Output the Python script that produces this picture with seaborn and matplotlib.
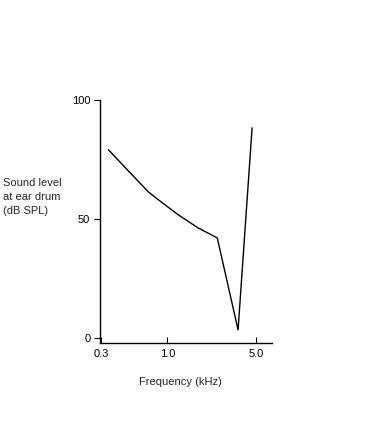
import numpy as np
import pandas as pd
import seaborn as sns
import matplotlib.pyplot as plt
from matplotlib.ticker import FixedLocator, NullLocator

# Threshold curve
freq_khz = [0.343, 0.467, 0.709, 0.85, 1.22, 1.75, 2.48, 3.62, 4.67]
level_db = [79.1, 71.5, 61.4, 58.1, 51.8, 46.3, 42.1, 3.5, 88.3]

x_ticks = [0.3, 1.0, 5.0]
x_tick_labels = ["0.3", "1.0", "5.0"]
y_ticks = [0, 50, 100]
y_tick_labels = ["0", "50", "100"]

df = pd.DataFrame({"Frequency": freq_khz, "Level": level_db})

sns.set_style("white")
plt.rcParams["font.family"] = ["Liberation Sans", "DejaVu Sans"]

fig = plt.figure(figsize=(3.67, 4.44), dpi=100)
ax = fig.add_axes([0.2725, 0.2275, 0.4687, 0.5473])

sns.lineplot(data=df, x="Frequency", y="Level", ax=ax, color="black",
             linewidth=1.0, sort=False, estimator=None)

ax.set_xscale("log")
ax.set_xlim(0.294, 6.71)
ax.set_ylim(-2, 100)

ax.xaxis.set_major_locator(FixedLocator(x_ticks))
ax.xaxis.set_minor_locator(NullLocator())
ax.set_xticklabels(x_tick_labels)
ax.set_yticks(y_ticks)
ax.set_yticklabels(y_tick_labels)

ax.tick_params(axis="x", bottom=True, direction="in", length=4, width=0.8,
               labelsize=8, pad=4, colors="black")
ax.tick_params(axis="y", left=True, direction="out", length=4, width=0.8,
               labelsize=8, pad=3, colors="black")

for side in ["top", "right"]:
    ax.spines[side].set_visible(False)
for side in ["left", "bottom"]:
    ax.spines[side].set_color("black")
    ax.spines[side].set_linewidth(1.0)

ax.set_xlabel("")
ax.set_ylabel("")
fig.text(3 / 367, 1 - 197 / 444, "Sound level\nat ear drum\n(dB SPL)",
         ha="left", va="center", fontsize=8, linespacing=1.45)
fig.text(180 / 367, 1 - 382 / 444, "Frequency (kHz)",
         ha="center", va="center", fontsize=8)

fig.savefig("out.png", dpi=100)
